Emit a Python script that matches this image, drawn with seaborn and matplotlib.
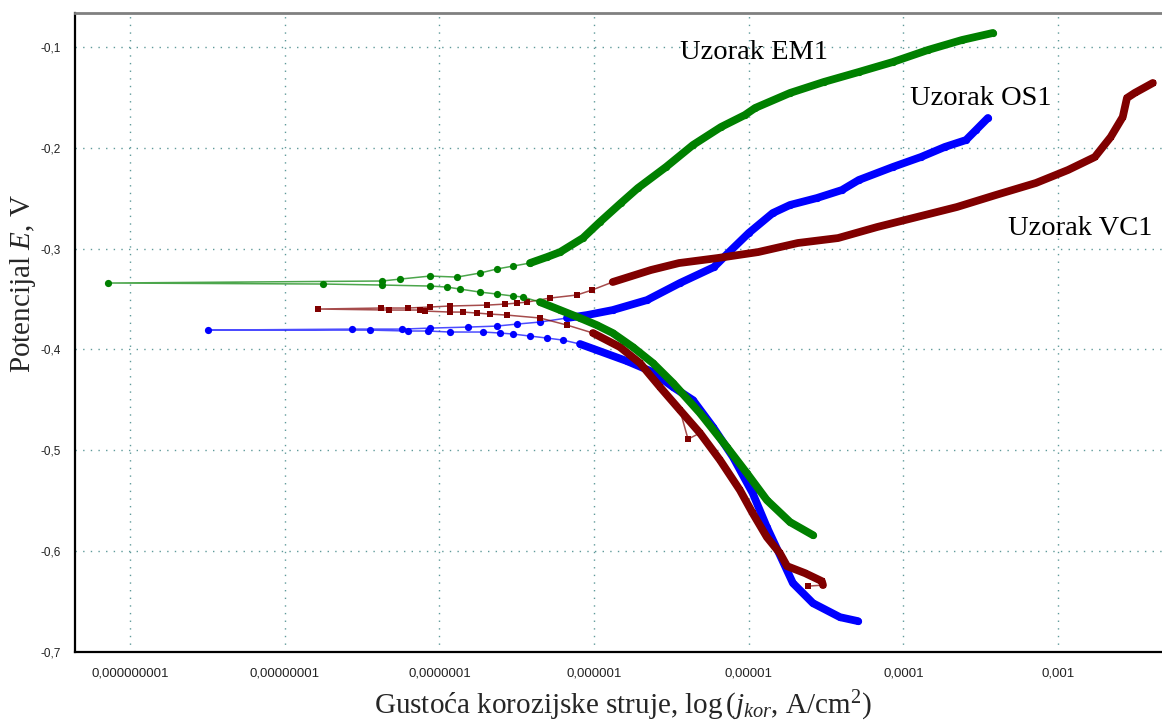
import numpy as np
import pandas as pd
import matplotlib
matplotlib.use('Agg')
import matplotlib.pyplot as plt
import seaborn as sns
from matplotlib.ticker import FixedLocator, NullFormatter, MultipleLocator, FuncFormatter

# ---------------- data (current density A/cm^2, potential V) ----------------
em1_j = [2.60e-5, 1.85e-5, 1.31e-5, 9.72e-6, 7.23e-6, 4.84e-6, 3.24e-6, 2.40e-6, 1.78e-6, 1.32e-6,
         1.04e-6, 8.11e-7, 6.03e-7, 4.47e-7, 3.47e-7, 2.99e-7, 2.35e-7, 1.83e-7, 1.36e-7, 1.12e-7,
         8.69e-8, 4.26e-8, 1.77e-8, 7.21e-10,
         4.26e-8, 5.56e-8, 8.69e-8, 1.30e-7, 1.83e-7, 2.35e-7, 2.99e-7, 3.85e-7, 4.97e-7, 6.03e-7,
         8.47e-7, 1.09e-6, 1.49e-6, 1.92e-6, 2.92e-6, 4.36e-6, 6.61e-6, 9.44e-6, 1.10e-5, 1.85e-5,
         3.06e-5, 5.15e-5, 8.55e-5, 1.44e-4, 2.39e-4, 3.79e-4]
em1_E = [-0.5841, -0.5712, -0.5494, -0.5226, -0.4968, -0.4631, -0.4333, -0.4135, -0.3976, -0.3837,
         -0.3758, -0.3688, -0.3609, -0.3530, -0.3480, -0.3470, -0.3450, -0.3431, -0.3401, -0.3381,
         -0.3371, -0.3361, -0.3351, -0.3341,
         -0.3321, -0.3302, -0.3272, -0.3282, -0.3242, -0.3202, -0.3173, -0.3143, -0.3083, -0.3034,
         -0.2895, -0.2736, -0.2548, -0.2399, -0.2190, -0.1972, -0.1794, -0.1675, -0.1605, -0.1456,
         -0.1347, -0.1248, -0.1149, -0.1030, -0.0931, -0.0861]

os1_j = [5.08e-5, 3.89e-5, 2.60e-5, 1.93e-5, 1.57e-5, 1.31e-5, 1.06e-5, 7.91e-6, 5.88e-6, 4.36e-6,
         3.24e-6, 2.40e-6, 1.63e-6, 1.04e-6, 8.11e-7, 6.30e-7, 4.97e-7, 3.85e-7, 2.99e-7, 2.47e-7,
         1.92e-7, 1.17e-7, 8.43e-8, 6.27e-8, 3.56e-8, 3.19e-9,
         2.72e-8, 5.73e-8, 8.69e-8, 1.53e-7, 2.35e-7, 3.18e-7, 4.47e-7, 6.68e-7, 8.99e-7, 1.32e-6,
         2.20e-6, 3.59e-6, 5.96e-6, 7.35e-6, 1.00e-5, 1.43e-5, 1.85e-5, 2.76e-5, 4.00e-5, 5.15e-5,
         8.55e-5, 1.30e-4, 1.85e-4, 2.54e-4, 2.95e-4, 3.52e-4]
os1_E = [-0.6694, -0.6655, -0.6516, -0.6317, -0.6020, -0.5762, -0.5425, -0.5067, -0.4770, -0.4502,
         -0.4373, -0.4224, -0.4115, -0.4006, -0.3946, -0.3907, -0.3887, -0.3867, -0.3847, -0.3837,
         -0.3827, -0.3827, -0.3817, -0.3817, -0.3808, -0.3808,
         -0.3798, -0.3798, -0.3788, -0.3778, -0.3768, -0.3748, -0.3728, -0.3688, -0.3659, -0.3609,
         -0.3510, -0.3341, -0.3183, -0.3044, -0.2845, -0.2647, -0.2567, -0.2498, -0.2419, -0.2319,
         -0.2190, -0.2091, -0.1992, -0.1923, -0.1823, -0.1704]

vc1_j = [2.42e-5, 3.02e-5, 2.97e-5, 2.31e-5, 1.77e-5, 1.59e-5, 1.31e-5, 1.06e-5, 8.77e-6, 6.52e-6,
         4.84e-6, 4.05e-6, 3.59e-6, 2.67e-6, 1.98e-6, 1.47e-6, 9.84e-7, 6.68e-7, 4.47e-7, 2.73e-7,
         2.12e-7, 1.75e-7, 1.42e-7, 1.17e-7, 8.07e-8, 7.50e-8, 4.72e-8, 1.64e-8,
         4.19e-8, 6.27e-8, 8.69e-8, 1.17e-7, 2.03e-7, 2.65e-7, 3.18e-7, 3.68e-7, 5.19e-7, 7.74e-7,
         9.68e-7, 1.32e-6, 2.33e-6, 3.54e-6, 6.32e-6, 1.15e-5, 2.08e-5, 3.78e-5, 6.75e-5, 1.22e-4,
         2.22e-4, 3.96e-4, 7.19e-4, 1.16e-3, 1.73e-3, 2.19e-3, 2.62e-3, 2.79e-3, 3.13e-3, 4.10e-3]
vc1_E = [-0.6347, -0.6337, -0.6298, -0.6218, -0.6149, -0.6020, -0.5861, -0.5623, -0.5395, -0.5097,
         -0.4829, -0.4889, -0.4601, -0.4373, -0.4135, -0.3976, -0.3837, -0.3758, -0.3688, -0.3659,
         -0.3649, -0.3639, -0.3629, -0.3629, -0.3619, -0.3609, -0.3609, -0.3599,
         -0.3589, -0.3589, -0.3579, -0.3569, -0.3560, -0.3550, -0.3540, -0.3530, -0.3490, -0.3460,
         -0.3411, -0.3331, -0.3212, -0.3143, -0.3093, -0.3034, -0.2944, -0.2895, -0.2786, -0.2687,
         -0.2587, -0.2468, -0.2349, -0.2220, -0.2091, -0.1893, -0.1694, -0.1506, -0.1456, -0.1357]

x_ticks = [1e-9, 1e-8, 1e-7, 1e-6, 1e-5, 1e-4, 1e-3]
x_tick_labels = ['0,000000001', '0,00000001', '0,0000001', '0,000001', '0,00001', '0,0001', '0,001']
y_ticks = [-0.7, -0.6, -0.5, -0.4, -0.3, -0.2, -0.1]

labels = ['Uzorak EM1', 'Uzorak OS1', 'Uzorak VC1']
label_pos = [(1.08e-5, -0.1119), (3.17e-4, -0.1575), (1.40e-3, -0.2865)]

# ---------------- style ----------------
sns.set_style('white')
plt.rcParams['font.family'] = ['Liberation Sans', 'DejaVu Sans']
plt.rcParams['mathtext.fontset'] = 'custom'
plt.rcParams['mathtext.rm'] = 'Liberation Serif'
plt.rcParams['mathtext.it'] = 'Liberation Serif:italic'

fig = plt.figure(figsize=(11.62, 7.22), dpi=100)
ax = fig.add_axes([0.0645, 0.097, 0.9355, 0.885])
ax.set_xscale('log')

GREEN, BLUE, RED = '#008000', '#0000ff', '#800000'
SERIF = ['Liberation Serif', 'DejaVu Serif']


def draw(j, E, color, marker, ms, dense_idx):
    df = pd.DataFrame({'j': j, 'E': E})
    sns.lineplot(data=df, x='j', y='E', sort=False, estimator=None, color=color,
                 lw=1.1, alpha=0.7, ax=ax)
    for idx in dense_idx:
        sns.lineplot(data=df.iloc[idx], x='j', y='E', sort=False, estimator=None,
                     color=color, lw=5.6, ax=ax,
                     solid_capstyle='round', solid_joinstyle='round')
    sns.lineplot(data=df, x='j', y='E', sort=False, estimator=None, color=color,
                 lw=0, marker=marker, markersize=ms, markeredgewidth=0, ax=ax)


n_os, n_vc, n_em = len(os1_j), len(vc1_j), len(em1_j)
draw(os1_j, os1_E, BLUE, 'o', 5.2,
     [list(range(0, 15)), list(range(33, n_os))])
draw(vc1_j, vc1_E, RED, 's', 4.8,
     [list(range(1, 11)) + list(range(12, 17)), list(range(39, n_vc))])
draw(em1_j, em1_E, GREEN, 'o', 5.2,
     [list(range(0, 14)), list(range(31, n_em))])

for txt, (xx, yy) in zip(labels, label_pos):
    ax.text(xx, yy, txt, ha='center', va='baseline', fontsize=20.5,
            family=SERIF, color='black')

# axes limits & ticks
ax.set_xlim(4.4e-10, 4.7e-3)
ax.set_ylim(-0.7, -0.0663)
ax.xaxis.set_major_locator(FixedLocator(x_ticks))
ax.set_xticklabels(x_tick_labels)
minor = [m * d for d in [1e-10, 1e-9, 1e-8, 1e-7, 1e-6, 1e-5, 1e-4, 1e-3] for m in range(2, 10)]
ax.xaxis.set_minor_locator(FixedLocator(minor))
ax.xaxis.set_minor_formatter(NullFormatter())
ax.yaxis.set_major_locator(FixedLocator(y_ticks))
ax.yaxis.set_major_formatter(FuncFormatter(lambda v, p: ('%.1f' % v).replace('.', ',')))
ax.yaxis.set_minor_locator(MultipleLocator(0.05))

ax.tick_params(axis='both', which='major', direction='out', length=4, width=1,
               color='black', labelcolor='#222222')
ax.tick_params(axis='x', which='major', pad=7, labelsize=9.5)
ax.tick_params(axis='y', which='major', pad=6, labelsize=8.5)
ax.tick_params(axis='both', which='minor', direction='out', length=3, width=0.8, color='black')

ax.grid(True, which='major', color='#5f9a9a', linestyle=(0, (1, 4.5)), linewidth=1.0)
ax.set_axisbelow(True)

for s in ['left', 'bottom']:
    ax.spines[s].set_color('black')
    ax.spines[s].set_linewidth(1.6)
ax.spines['top'].set_color('#808080')
ax.spines['top'].set_linewidth(2)
ax.spines['right'].set_visible(False)

ax.set_ylabel('Potencijal $E$, V', fontsize=21, family=SERIF)
ax.set_xlabel(r'Gustoća korozijske struje, log$\,($$j_{kor}$, A/cm$^{2}$)', fontsize=21,
              family=SERIF)
ax.yaxis.set_label_coords(-0.0475, 0.577)
ax.xaxis.set_label_coords(0.504, -0.085)
ax.xaxis.label.set_va('center')
ax.yaxis.label.set_va('center')

fig.savefig('out.png', dpi=100)
